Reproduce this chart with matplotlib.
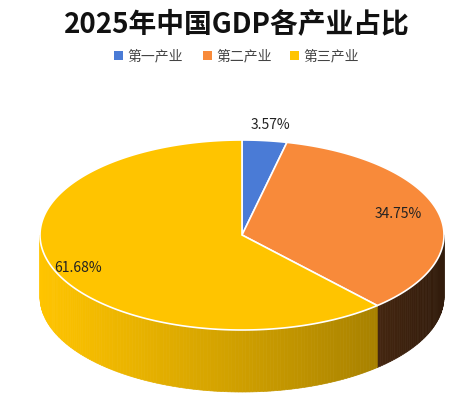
import numpy as np
import matplotlib
matplotlib.use("Agg")
import matplotlib.pyplot as plt
from matplotlib.patches import Polygon, Rectangle
import matplotlib.colors as mc

plt.rcParams['font.family'] = ['Noto Sans CJK SC', 'DejaVu Sans']

categories = ['第一产业', '第二产业', '第三产业']
values = [3.57, 34.75, 61.68]
labels = ['3.57%', '34.75%', '61.68%']
colors = ['#4a7bd6', '#f88a3a', '#ffc400']

fig = plt.figure(figsize=(4.74, 4.10), dpi=100)
ax = fig.add_axes([0, 0, 1, 1])
ax.set_xlim(0, 474); ax.set_ylim(410, 0); ax.axis('off')

cx, cy, a, b, depth = 242, 236, 202, 95, 62

def pt(t, dy=0):
    r = np.radians(t)
    return cx + a*np.cos(r), cy - b*np.sin(r) + dy

total = sum(values)
start = 90.0
spans = []
for v in values:
    end = start - v/total*360
    spans.append((start, end))
    start = end

for i, (s, e) in enumerate(spans):
    for t0 in np.arange(s, e, -1.0):
        t1 = max(t0 - 1.0, e)
        tm = (t0 + t1)/2
        if np.sin(np.radians(tm)) >= 0:
            continue
        x = np.cos(np.radians(tm))
        f = 0.55 + 0.45*(1 - (x + 1)/2)**0.8
        if i == 1:
            f = 0.2 + 0.45*(1 - (x + 1)/2)
        base = np.array(mc.to_rgb(colors[i]))
        c = np.clip(base*f, 0, 1)
        p0 = pt(t0); p1 = pt(t1)
        poly = [p0, p1, (p1[0], p1[1]+depth), (p0[0], p0[1]+depth)]
        ax.add_patch(Polygon(poly, closed=True, fc=c, ec=c, lw=0.5))

for i, (s, e) in enumerate(spans):
    ts = np.linspace(s, e, 200)
    pts = [(cx, cy)] + [pt(t) for t in ts]
    ax.add_patch(Polygon(pts, closed=True, fc=colors[i], ec='white', lw=1.2))

label_pos = [(270, 125), (398, 214), (78, 268)]
for (x, y), l in zip(label_pos, labels):
    ax.text(x, y, l, fontsize=10, ha='center', va='center', color='#222222')

ax.text(237, 24, '2025年中国GDP各产业占比', fontsize=20, fontweight='bold',
        ha='center', va='center', color='#111111')

lx = [114, 203, 290]
for x, c, n in zip(lx, colors, categories):
    ax.add_patch(Rectangle((x, 52), 9, 9, fc=c, ec='none'))
    ax.text(x + 13, 56.5, n, fontsize=10, ha='left', va='center', color='#444444')

fig.savefig('out.png', dpi=100)
